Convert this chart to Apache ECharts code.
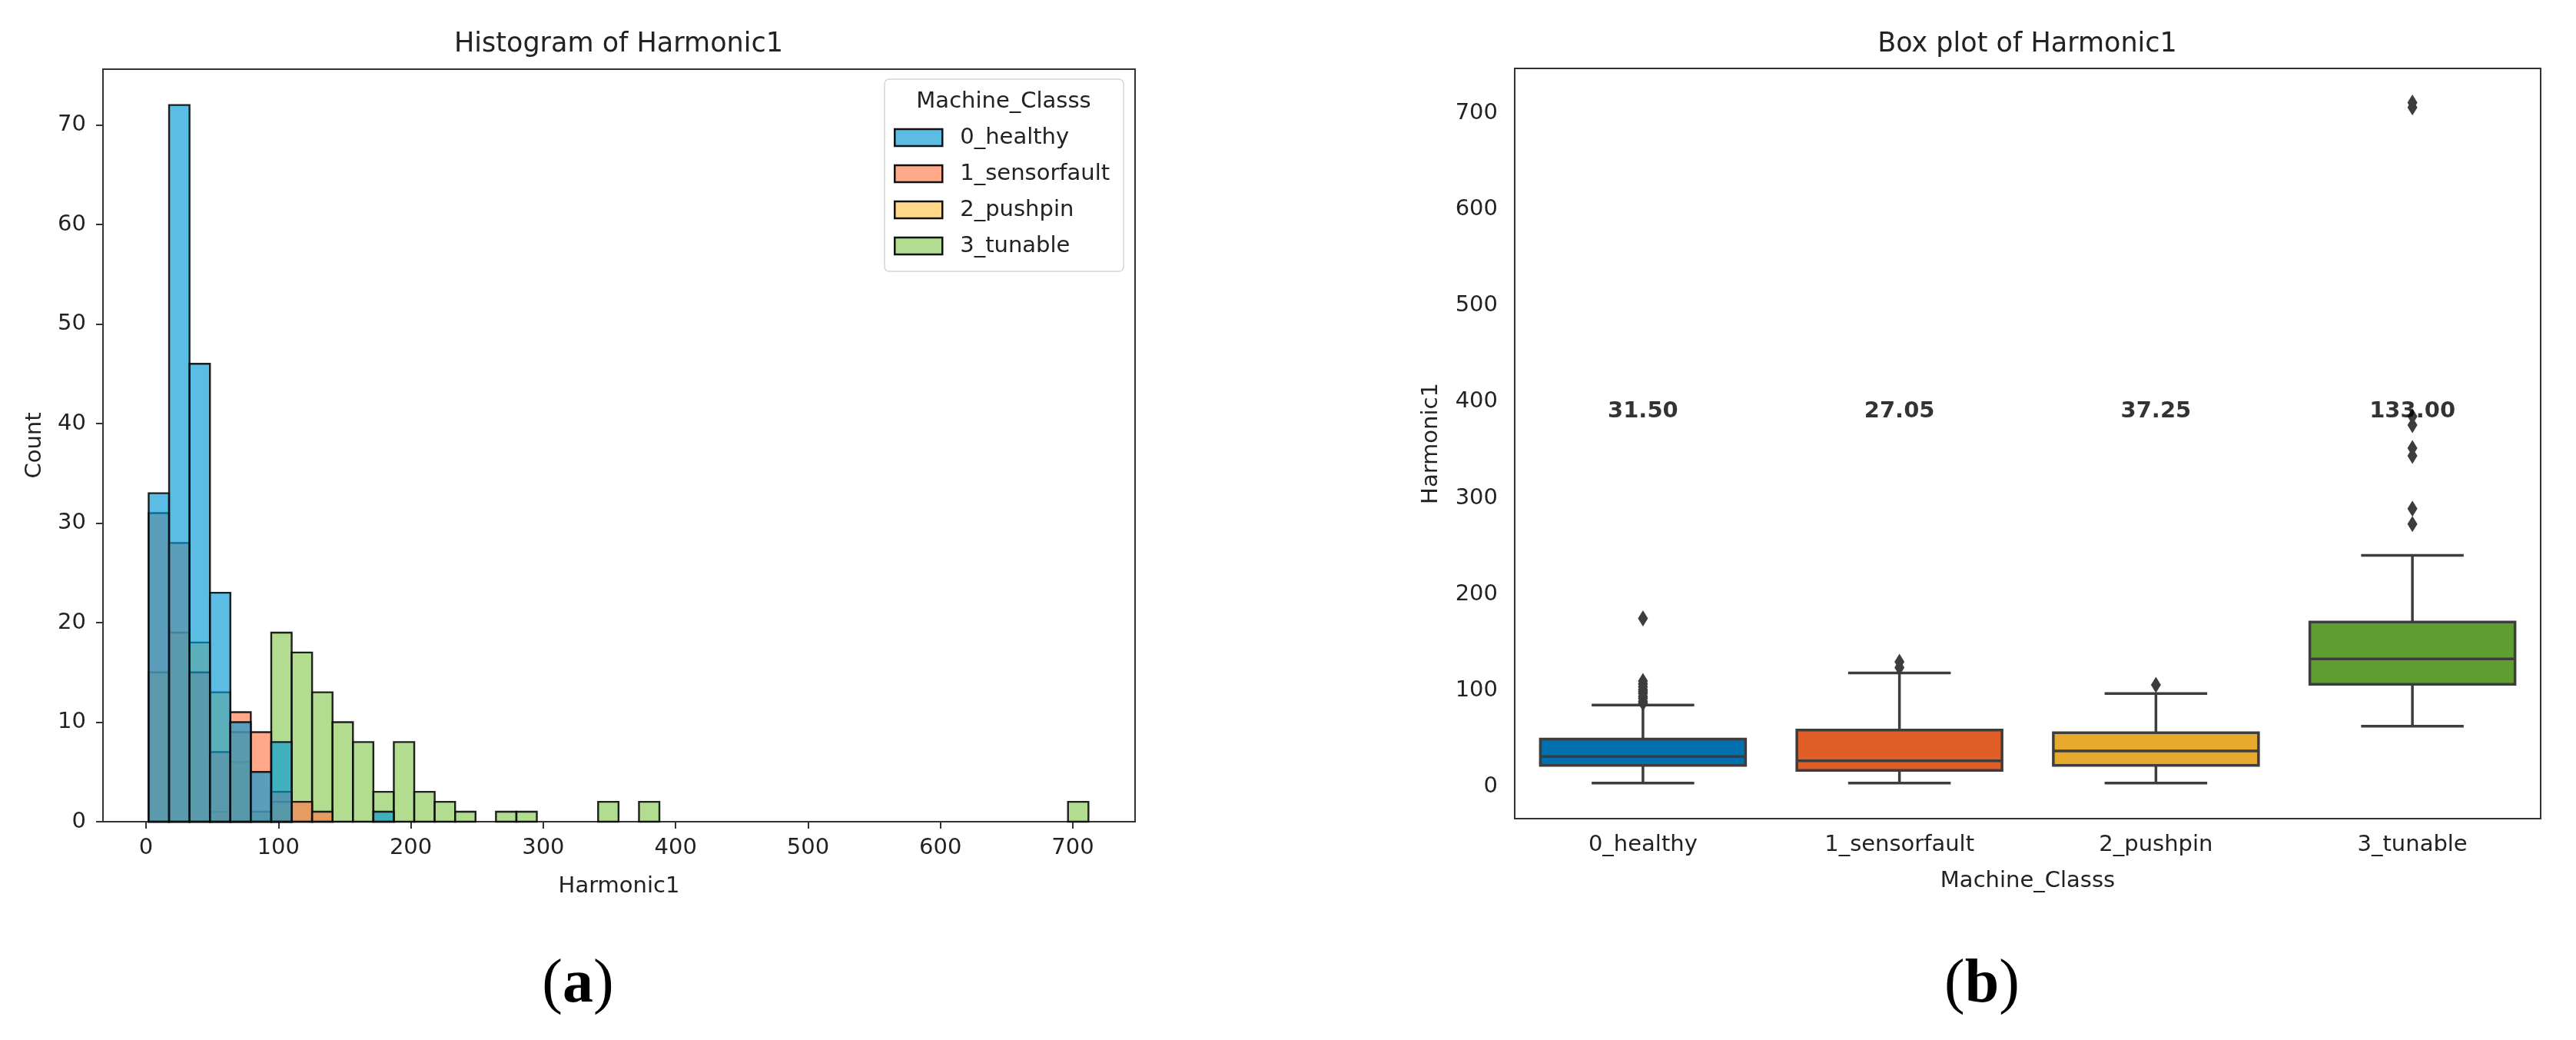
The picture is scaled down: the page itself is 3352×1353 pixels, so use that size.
<!DOCTYPE html>
<html>
<head>
<meta charset="utf-8">
<script src="https://cdn.jsdelivr.net/npm/echarts@6/dist/echarts.min.js"></script>
<style>
  html, body { margin: 0; padding: 0; background: #fff; }
  #main { width: 3352px; height: 1353px; }
</style>
</head>
<body>
<div id="main"></div>
<script>
// ---- data ----
var classes = ['0_healthy', '1_sensorfault', '2_pushpin', '3_tunable'];

// histogram: 46 equal bins starting at binStart
var binStart = 2;
var binWidth = 15.43;
var healthyCounts = [
  33, 72, 46, 23, 10, 5, 8, 0, 0, 0,
  0, 1, 0, 0, 0, 0, 0, 0, 0, 0,
  0, 0, 0, 0, 0, 0, 0, 0, 0, 0,
  0, 0, 0, 0, 0, 0, 0, 0, 0, 0,
  0, 0, 0, 0, 0, 0
];
var sensorCounts = [
  31, 28, 15, 7, 11, 9, 3, 2, 1, 0,
  0, 0, 0, 0, 0, 0, 0, 0, 0, 0,
  0, 0, 0, 0, 0, 0, 0, 0, 0, 0,
  0, 0, 0, 0, 0, 0, 0, 0, 0, 0,
  0, 0, 0, 0, 0, 0
];
var pushpinCounts = [
  15, 19, 18, 13, 9, 0, 2, 0, 0, 0,
  0, 0, 0, 0, 0, 0, 0, 0, 0, 0,
  0, 0, 0, 0, 0, 0, 0, 0, 0, 0,
  0, 0, 0, 0, 0, 0, 0, 0, 0, 0,
  0, 0, 0, 0, 0, 0
];
var tunableCounts = [
  0, 0, 0, 1, 6, 1, 19, 17, 13, 10,
  8, 3, 8, 3, 2, 1, 0, 1, 1, 0,
  0, 0, 2, 0, 2, 0, 0, 0, 0, 0,
  0, 0, 0, 0, 0, 0, 0, 0, 0, 0,
  0, 0, 0, 0, 0, 2
];
var histXTicks = [0, 100, 200, 300, 400, 500, 600, 700];
var histYTicks = [0, 10, 20, 30, 40, 50, 60, 70];

// box plot: whisker low, Q1, median, Q3, whisker high
var boxLow = [4, 4, 4, 63];
var boxQ1 = [22.4, 17.1, 22.4, 106.6];
var boxMedian = [31.5, 27.05, 37.25, 133.0];
var boxQ3 = [49.6, 59.1, 56.2, 171.2];
var boxHigh = [85, 118.3, 97, 240.6];
var outlierClass = [0, 0, 0, 0, 0, 0, 0, 0, 0, 0, 0, 1, 1, 2, 3, 3, 3, 3, 3, 3, 3, 3];
var outlierValue = [87, 89, 92, 94, 97, 99, 101, 104, 107, 110, 175, 124, 130, 106, 273, 289, 344, 352, 376, 385, 706, 711];
var boxYTicks = [0, 100, 200, 300, 400, 500, 600, 700];
var medianLabelY = 390;

// ---- styles ----
var FONT = 'DejaVu Sans';
var TXT = '#222';
var histFill = ['rgba(3,152,214,0.65)', 'rgba(255,122,75,0.65)', 'rgba(255,197,75,0.65)', 'rgba(137,202,84,0.65)'];
var legendFill = ['#5bbce4', '#ffa98a', '#ffd98a', '#b2dc90'];
var boxFill = ['#0070ae', '#e05f28', '#e6a92b', '#5f9f32'];
var boxEdge = '#3d3d3d';

var myChart = echarts.init(document.getElementById('main'));

// one histogram layer as a custom series of rects
function histLayer(idx, counts) {
  var data = [];
  counts.forEach(function (c, i) {
    if (c > 0) data.push([binStart + i * binWidth, binStart + (i + 1) * binWidth, c]);
  });
  return {
    name: classes[idx],
    type: 'custom',
    xAxisIndex: 0,
    yAxisIndex: 0,
    encode: { x: [0, 1], y: 2 },
    itemStyle: { color: legendFill[idx] },
    renderItem: function (params, api) {
      var p0 = api.coord([api.value(0), api.value(2)]);
      var p1 = api.coord([api.value(1), 0]);
      return {
        type: 'rect',
        shape: { x: p0[0], y: p0[1], width: p1[0] - p0[0], height: p1[1] - p0[1] },
        style: { fill: histFill[idx], stroke: 'rgba(10,10,10,0.9)', lineWidth: 2.4 }
      };
    },
    data: data
  };
}

var boxData = classes.map(function (c, i) {
  return [i, boxLow[i], boxQ1[i], boxMedian[i], boxQ3[i], boxHigh[i]];
});

var outlierData = outlierValue.map(function (v, i) {
  return [outlierClass[i], v];
});

var medianLabelData = classes.map(function (c, i) {
  return { value: [i, medianLabelY], label: { formatter: boxMedian[i].toFixed(2) } };
});

function axisText() {
  return { fontFamily: FONT, fontSize: 29, color: TXT };
}

var option = {
  backgroundColor: '#fff',
  animation: false,
  grid: [
    { left: 134, top: 90, width: 1343, height: 979, show: true, borderColor: '#333', borderWidth: 2 },
    { left: 1971, top: 89, width: 1335, height: 976, show: true, borderColor: '#333', borderWidth: 2 }
  ],
  legend: {
    orient: 'vertical',
    left: 1151,
    top: 103,
    padding: [61, 18, 18, 12],
    itemWidth: 62,
    itemHeight: 22,
    itemGap: 17,
    icon: 'rect',
    selectedMode: false,
    borderColor: '#d5d5d5',
    borderWidth: 1.5,
    borderRadius: 6,
    backgroundColor: 'rgba(255,255,255,0.85)',
    textStyle: { fontFamily: FONT, fontSize: 29, color: TXT, lineHeight: 30, padding: [0, 0, 0, 18] },
    data: classes.map(function (c, i) {
      return { name: c, itemStyle: { color: legendFill[i], borderColor: '#111', borderWidth: 2.5 } };
    })
  },
  xAxis: [
    {
      type: 'value', gridIndex: 0, min: -32.5, max: 747,
      name: 'Harmonic1', nameLocation: 'middle', nameGap: 70, nameTextStyle: axisText(),
      axisLine: { onZero: false, lineStyle: { color: '#333', width: 2 } },
      axisTick: { length: 9, lineStyle: { color: '#333', width: 2 }, customValues: histXTicks },
      axisLabel: Object.assign({ margin: 20, customValues: histXTicks }, axisText()),
      splitLine: { show: false }
    },
    {
      type: 'category', gridIndex: 1, data: classes, boundaryGap: true,
      name: 'Machine_Classs', nameLocation: 'middle', nameGap: 67, nameTextStyle: axisText(),
      axisLine: { onZero: false, lineStyle: { color: '#333', width: 2 } },
      axisTick: { alignWithLabel: true, length: 9, lineStyle: { color: '#333', width: 2 } },
      axisLabel: Object.assign({ margin: 20 }, axisText()),
      splitLine: { show: false }
    }
  ],
  yAxis: [
    {
      type: 'value', gridIndex: 0, min: 0, max: 75.6,
      name: 'Count', nameLocation: 'middle', nameGap: 74, nameTextStyle: axisText(),
      axisLine: { onZero: false, lineStyle: { color: '#333', width: 2 } },
      axisTick: { length: 9, lineStyle: { color: '#333', width: 2 }, customValues: histYTicks },
      axisLabel: Object.assign({ margin: 22, customValues: histYTicks }, axisText()),
      splitLine: { show: false }
    },
    {
      type: 'value', gridIndex: 1, min: -33, max: 746.5,
      name: 'Harmonic1', nameLocation: 'middle', nameGap: 94, nameTextStyle: axisText(),
      axisLine: { onZero: false, lineStyle: { color: '#333', width: 2 } },
      axisTick: { length: 9, lineStyle: { color: '#333', width: 2 }, customValues: boxYTicks },
      axisLabel: Object.assign({ margin: 22, customValues: boxYTicks }, axisText()),
      splitLine: { show: false }
    }
  ],
  graphic: [
    { type: 'text', x: 805, y: 58, style: { text: 'Histogram of Harmonic1', font: '35px "DejaVu Sans"', fill: TXT, textAlign: 'center', textVerticalAlign: 'middle' } },
    { type: 'text', x: 2638, y: 58, style: { text: 'Box plot of Harmonic1', font: '35px "DejaVu Sans"', fill: TXT, textAlign: 'center', textVerticalAlign: 'middle' } },
    { type: 'text', x: 1306, y: 132, z: 100, style: { text: 'Machine_Classs', font: '29px "DejaVu Sans"', fill: TXT, textAlign: 'center', textVerticalAlign: 'middle' } },
    {
      type: 'text', x: 752, y: 1282,
      style: {
        text: '{p|(}{l|a}{p|)}', textAlign: 'center', textVerticalAlign: 'middle',
        rich: {
          p: { fontFamily: 'Liberation Serif', fontSize: 80, fill: '#000' },
          l: { fontFamily: 'Liberation Serif', fontSize: 80, fontWeight: 'bold', fill: '#000' }
        }
      }
    },
    {
      type: 'text', x: 2579, y: 1282,
      style: {
        text: '{p|(}{l|b}{p|)}', textAlign: 'center', textVerticalAlign: 'middle',
        rich: {
          p: { fontFamily: 'Liberation Serif', fontSize: 80, fill: '#000' },
          l: { fontFamily: 'Liberation Serif', fontSize: 80, fontWeight: 'bold', fill: '#000' }
        }
      }
    }
  ],
  series: [
    // drawn bottom to top, like seaborn's layered histogram
    histLayer(3, tunableCounts),
    histLayer(2, pushpinCounts),
    histLayer(1, sensorCounts),
    histLayer(0, healthyCounts),
    {
      name: 'box',
      type: 'custom',
      xAxisIndex: 1,
      yAxisIndex: 1,
      encode: { x: 0, y: [1, 2, 3, 4, 5] },
      renderItem: function (params, api) {
        var i = api.value(0);
        var band = api.size([1, 0])[0];
        var cx = api.coord([i, 0])[0];
        var yLow = api.coord([i, api.value(1)])[1];
        var yQ1 = api.coord([i, api.value(2)])[1];
        var yMed = api.coord([i, api.value(3)])[1];
        var yQ3 = api.coord([i, api.value(4)])[1];
        var yHigh = api.coord([i, api.value(5)])[1];
        var half = band * 0.4;
        var cap = band * 0.2;
        var ls = { stroke: boxEdge, lineWidth: 3.5 };
        return {
          type: 'group',
          children: [
            { type: 'line', shape: { x1: cx, y1: yQ1, x2: cx, y2: yLow }, style: ls },
            { type: 'line', shape: { x1: cx, y1: yQ3, x2: cx, y2: yHigh }, style: ls },
            { type: 'line', shape: { x1: cx - cap, y1: yLow, x2: cx + cap, y2: yLow }, style: ls },
            { type: 'line', shape: { x1: cx - cap, y1: yHigh, x2: cx + cap, y2: yHigh }, style: ls },
            { type: 'rect', shape: { x: cx - half, y: yQ3, width: half * 2, height: yQ1 - yQ3 },
              style: { fill: boxFill[i], stroke: boxEdge, lineWidth: 3.5 } },
            { type: 'line', shape: { x1: cx - half, y1: yMed, x2: cx + half, y2: yMed }, style: ls }
          ]
        };
      },
      data: boxData
    },
    {
      name: 'outliers',
      type: 'scatter',
      xAxisIndex: 1,
      yAxisIndex: 1,
      symbol: 'diamond',
      symbolSize: [13, 21],
      itemStyle: { color: '#3d3d3d', opacity: 1 },
      z: 3,
      data: outlierData
    },
    {
      name: 'medianLabels',
      type: 'scatter',
      xAxisIndex: 1,
      yAxisIndex: 1,
      symbolSize: 0,
      z: 4,
      label: {
        show: true, position: 'inside',
        fontFamily: FONT, fontSize: 29, fontWeight: 'bold', color: '#000'
      },
      data: medianLabelData
    }
  ]
};

myChart.setOption(option);
</script>
</body>
</html>
